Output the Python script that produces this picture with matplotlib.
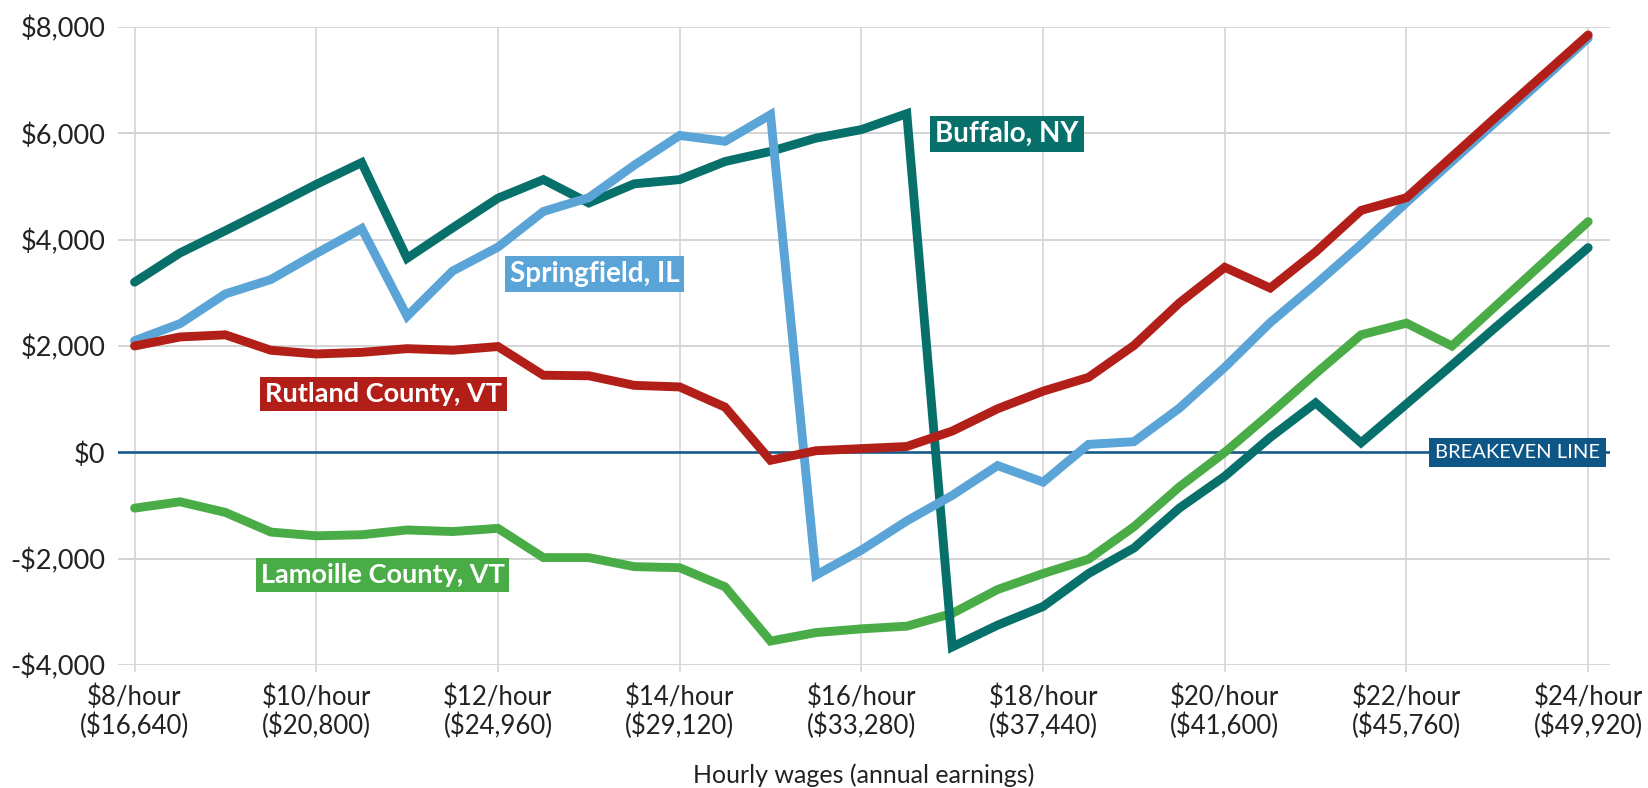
import matplotlib
matplotlib.use("Agg")
import matplotlib.pyplot as plt

plt.rcParams['font.family'] = ['Lato', 'DejaVu Sans']

wages = [8.0, 8.5, 9.0, 9.5, 10.0, 10.5, 11.0, 11.5, 12.0, 12.5,
         13.0, 13.5, 14.0, 14.5, 15.0, 15.5, 16.0, 16.5,
         17.0, 17.5, 18.0, 18.5, 19.0, 19.5, 20.0, 20.5, 21.0, 21.5,
         22.0, 22.5, 23.0, 23.5, 24.0]

buffalo = [3200, 3750, 4170, 4600, 5040, 5450, 3650, 4220, 4780, 5130,
           4690, 5050, 5130, 5470, 5660, 5910, 6070, 6370,
           -3660, -3250, -2900, -2280, -1800, -1050, -450, 280, 930, 180,
           910, 1640, 2380, 3110, 3850]

springfield = [2100, 2420, 2980, 3250, 3740, 4210, 2560, 3410, 3860, 4530,
               4790, 5400, 5960, 5850, 6350, -2310, -1840, -1290,
               -810, -250, -560, 150, 200, 830, 1600, 2440, 3160, 3910,
               4700, 5470, 6240, 7010, 7790]

rutland = [2000, 2170, 2210, 1920, 1850, 1880, 1950, 1920, 1990, 1450,
           1440, 1260, 1230, 850, -150, 30, 70, 110,
           400, 820, 1150, 1410, 2010, 2810, 3480, 3090, 3770, 4550,
           4790, 5560, 6330, 7090, 7850]

lamoille = [-1050, -930, -1130, -1500, -1570, -1550, -1460, -1490, -1430, -1980,
            -1980, -2150, -2170, -2530, -3550, -3390, -3320, -3270,
            -3030, -2580, -2280, -2010, -1400, -650, 0, 730, 1480, 2210,
            2430, 2000, 2780, 3560, 4340]

x_ticks = [8, 10, 12, 14, 16, 18, 20, 22, 24]
x_tick_labels = ["$8/hour\n($16,640)", "$10/hour\n($20,800)", "$12/hour\n($24,960)",
                 "$14/hour\n($29,120)", "$16/hour\n($33,280)", "$18/hour\n($37,440)",
                 "$20/hour\n($41,600)", "$22/hour\n($45,760)", "$24/hour\n($49,920)"]
y_ticks = [-4000, -2000, 0, 2000, 4000, 6000, 8000]
y_tick_labels = ["-$4,000", "-$2,000", "$0", "$2,000", "$4,000", "$6,000", "$8,000"]

TEAL = '#08706b'
BLUE = '#5aa4d7'
RED = '#b21f18'
GREEN = '#4aac46'
NAVY = '#0d5686'
GRID = '#d4d4d4'

W, H = 1648, 788
fig = plt.figure(figsize=(W / 100, H / 100), dpi=100)
left_px, right_px, top_px, bottom_px = 118, 1610, 27, 665
ax = fig.add_axes([left_px / W, 1 - bottom_px / H, (right_px - left_px) / W, (bottom_px - top_px) / H])

ax.set_xlim(7.818, 24.24)
ax.set_ylim(-4000, 8000)

for s in ax.spines.values():
    s.set_visible(False)

# grid
for yv in y_ticks:
    if yv != 0:
        ax.axhline(yv, color=GRID, lw=1.4, zorder=1)
for xv in x_ticks:
    ax.axvline(xv, color=GRID, lw=1.2, zorder=1)
ax.axhline(0, color='#175a8a', lw=1.9, zorder=2)

lw = 6.4
ax.plot(wages, lamoille, color=GREEN, lw=lw, zorder=3, solid_capstyle='round', solid_joinstyle='miter', clip_on=False)
ax.plot(wages, buffalo, color=TEAL, lw=lw, zorder=4, solid_capstyle='round', solid_joinstyle='miter', clip_on=False)
ax.plot(wages, springfield, color=BLUE, lw=lw, zorder=5, solid_capstyle='round', solid_joinstyle='miter', clip_on=False)
ax.plot(wages, rutland, color=RED, lw=lw, zorder=6, solid_capstyle='round', solid_joinstyle='miter', clip_on=False)

ax.set_xticks(x_ticks)
ax.set_xticklabels(x_tick_labels, fontsize=18.5, color='#222222', linespacing=1.12)
ax.set_yticks(y_ticks)
ax.set_yticklabels(y_tick_labels, fontsize=19.5, color='#222222')
ax.tick_params(axis='x', length=5, width=1.2, color=GRID, pad=9)
ax.tick_params(axis='y', length=0, pad=9)

def label(x, y, text, color, size=20, weight='bold', pad=0.18):
    ax.text(x, y, text, ha='center', va='center', fontsize=size, fontweight=weight,
            color='white', zorder=8,
            bbox=dict(boxstyle=f'square,pad={pad}', fc=color, ec='none'))

label(17.605, 5983, "Buffalo, NY", TEAL)
label(13.064, 3358, "Springfield, IL", BLUE)
label(10.741, 1101, "Rutland County, VT", RED, size=19.5)
label(10.730, -2305, "Lamoille County, VT", GREEN, size=19.5)
label(23.225, 0, "BREAKEVEN LINE", NAVY, size=14.5, weight='normal', pad=0.3)

fig.text(864 / W, 1 - 775 / H, "Hourly wages (annual earnings)", ha='center', va='center',
         fontsize=18, color='#222222')

fig.savefig('out.png', dpi=100, facecolor='white')
